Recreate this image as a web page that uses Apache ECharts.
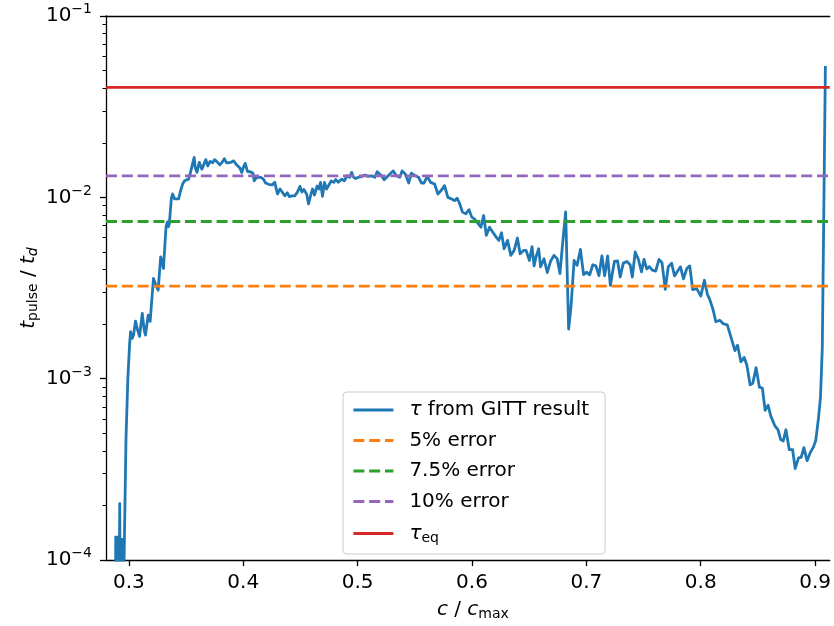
<!DOCTYPE html>
<html>
<head>
<meta charset="utf-8">
<script src="https://cdn.jsdelivr.net/npm/echarts@6/dist/echarts.min.js"></script>
<style>
html, body { margin: 0; padding: 0; background: #fff; }
#main { width: 834px; height: 626px; }
</style>
</head>
<body>
<div id="main"></div>
<script>
// c / c_max of every GITT pulse
var conc = [
    0.2882, 0.2885, 0.2889, 0.2893, 0.2897, 0.2901, 0.2905, 0.2909, 0.2913, 0.2920,
    0.2927, 0.2931, 0.2936, 0.2940, 0.2945, 0.2975, 0.2991, 0.3006, 0.3015, 0.3030,
    0.3041, 0.3058, 0.3076, 0.3093, 0.3117, 0.3134, 0.3145, 0.3169, 0.3186, 0.3200,
    0.3215, 0.3230, 0.3241, 0.3256, 0.3267, 0.3278, 0.3290, 0.3302, 0.3313, 0.3325,
    0.3337, 0.3345, 0.3354, 0.3371, 0.3382, 0.3400, 0.3417, 0.3435, 0.3452, 0.3470,
    0.3487, 0.3504, 0.3522, 0.3539, 0.3556, 0.3571, 0.3580, 0.3595, 0.3615, 0.3638,
    0.3661, 0.3673, 0.3690, 0.3710, 0.3732, 0.3750, 0.3771, 0.3795, 0.3815, 0.3835,
    0.3854, 0.3871, 0.3893, 0.3917, 0.3937, 0.3954, 0.3971, 0.3987, 0.4002, 0.4017,
    0.4037, 0.4050, 0.4067, 0.4085, 0.4096, 0.4113, 0.4132, 0.4154, 0.4176, 0.4195,
    0.4223, 0.4252, 0.4276, 0.4299, 0.4322, 0.4339, 0.4363, 0.4386, 0.4403, 0.4426,
    0.4450, 0.4473, 0.4496, 0.4513, 0.4530, 0.4554, 0.4571, 0.4588, 0.4606, 0.4623,
    0.4645, 0.4662, 0.4676, 0.4693, 0.4710, 0.4728, 0.4745, 0.4769, 0.4791, 0.4809,
    0.4832, 0.4861, 0.4884, 0.4907, 0.4930, 0.4948, 0.4965, 0.4984, 0.5006, 0.5035,
    0.5064, 0.5093, 0.5122, 0.5151, 0.5171, 0.5209, 0.5232, 0.5267, 0.5310, 0.5339,
    0.5369, 0.5389, 0.5417, 0.5447, 0.5470, 0.5504, 0.5534, 0.5557, 0.5580, 0.5609,
    0.5638, 0.5673, 0.5702, 0.5730, 0.5760, 0.5789, 0.5823, 0.5847, 0.5870, 0.5893,
    0.5917, 0.5945, 0.5974, 0.5998, 0.6021, 0.6044, 0.6078, 0.6102, 0.6125, 0.6153,
    0.6182, 0.6212, 0.6235, 0.6258, 0.6281, 0.6311, 0.6339, 0.6369, 0.6397, 0.6421,
    0.6450, 0.6473, 0.6502, 0.6525, 0.6543, 0.6560, 0.6583, 0.6600, 0.6630, 0.6658,
    0.6687, 0.6717, 0.6745, 0.6769, 0.6791, 0.6819, 0.6845, 0.6867, 0.6893, 0.6919,
    0.6948, 0.6976, 0.7002, 0.7029, 0.7056, 0.7083, 0.7110, 0.7136, 0.7160, 0.7186,
    0.7210, 0.7245, 0.7273, 0.7296, 0.7323, 0.7354, 0.7383, 0.7402, 0.7427, 0.7456,
    0.7482, 0.7504, 0.7528, 0.7551, 0.7577, 0.7606, 0.7635, 0.7661, 0.7690, 0.7716,
    0.7745, 0.7771, 0.7800, 0.7823, 0.7849, 0.7878, 0.7904, 0.7930, 0.7965, 0.8001,
    0.8032, 0.8058, 0.8078, 0.8108, 0.8132, 0.8167, 0.8197, 0.8232, 0.8258, 0.8299,
    0.8322, 0.8351, 0.8380, 0.8403, 0.8432, 0.8455, 0.8484, 0.8513, 0.8539, 0.8563,
    0.8589, 0.8612, 0.8647, 0.8676, 0.8699, 0.8722, 0.8745, 0.8774, 0.8803, 0.8826,
    0.8855, 0.8878, 0.8902, 0.8930, 0.8960, 0.8983, 0.9006, 0.9030, 0.9047, 0.9063,
    0.9090
];
// t_pulse / t_d (tau) from the GITT result
var tau = [
    3e-5, 1.34e-4, 3e-5, 1.34e-4, 3e-5, 1.34e-4, 3e-5, 1.34e-4, 3e-5, 2.05e-4,
    3e-5, 1.3e-4, 3e-5, 1.3e-4, 3e-5, 4.74e-4, 1.0e-3, 1.54e-3, 1.82e-3, 1.67e-3,
    1.74e-3, 2.08e-3, 1.86e-3, 1.71e-3, 2.29e-3, 1.86e-3, 1.74e-3, 2.24e-3, 2.07e-3, 2.10e-3,
    3.57e-3, 3.66e-3, 3.23e-3, 3.08e-3, 3.80e-3, 4.70e-3, 4.43e-3, 4.05e-3, 5.21e-3, 6.89e-3,
    7.33e-3, 6.89e-3, 7.15e-3, 9.80e-3, 1.044e-2, 9.80e-3, 9.60e-3, 9.80e-3, 1.088e-2, 1.184e-2,
    1.235e-2, 1.25e-2, 1.261e-2, 1.373e-2, 1.524e-2, 1.66e-2, 1.46e-2, 1.373e-2, 1.56e-2, 1.431e-2,
    1.55e-2, 1.615e-2, 1.49e-2, 1.58e-2, 1.55e-2, 1.615e-2, 1.57e-2, 1.51e-2, 1.56e-2, 1.635e-2,
    1.55e-2, 1.52e-2, 1.56e-2, 1.59e-2, 1.524e-2, 1.49e-2, 1.45e-2, 1.37e-2, 1.47e-2, 1.54e-2,
    1.39e-2, 1.40e-2, 1.38e-2, 1.36e-2, 1.235e-2, 1.28e-2, 1.29e-2, 1.29e-2, 1.261e-2, 1.20e-2,
    1.18e-2, 1.17e-2, 1.21e-2, 1.044e-2, 1.112e-2, 1.135e-2, 1.02e-2, 1.06e-2, 1.01e-2, 1.02e-2,
    1.02e-2, 1.066e-2, 1.15e-2, 1.07e-2, 1.105e-2, 1.044e-2, 9.20e-3, 1.02e-2, 1.112e-2, 1.03e-2,
    1.155e-2, 1.112e-2, 1.21e-2, 1.014e-2, 1.21e-2, 1.112e-2, 1.16e-2, 1.23e-2, 1.21e-2, 1.254e-2,
    1.21e-2, 1.261e-2, 1.235e-2, 1.315e-2, 1.29e-2, 1.373e-2, 1.29e-2, 1.27e-2, 1.29e-2, 1.305e-2,
    1.327e-2, 1.305e-2, 1.315e-2, 1.29e-2, 1.384e-2, 1.315e-2, 1.25e-2, 1.315e-2, 1.40e-2, 1.315e-2,
    1.29e-2, 1.40e-2, 1.344e-2, 1.20e-2, 1.36e-2, 1.315e-2, 1.29e-2, 1.20e-2, 1.20e-2, 1.305e-2,
    1.21e-2, 1.184e-2, 1.044e-2, 1.09e-2, 1.16e-2, 1.0e-2, 9.80e-3, 9.60e-3, 9.89e-3, 9.20e-3,
    8.29e-3, 8.11e-3, 8.56e-3, 7.78e-3, 7.61e-3, 7.30e-3, 6.85e-3, 7.94e-3, 6.17e-3, 6.85e-3,
    6.43e-3, 6.04e-3, 5.79e-3, 6.38e-3, 5.21e-3, 5.79e-3, 4.79e-3, 5.10e-3, 5.97e-3, 4.89e-3,
    5.10e-3, 5.10e-3, 4.49e-3, 5.35e-3, 4.19e-3, 4.70e-3, 5.21e-3, 4.14e-3, 4.59e-3, 3.85e-3,
    4.44e-3, 4.79e-3, 4.59e-3, 3.80e-3, 5.43e-3, 8.32e-3, 1.88e-3, 2.55e-3, 4.49e-3, 4.22e-3,
    5.16e-3, 3.75e-3, 3.87e-3, 3.74e-3, 4.25e-3, 4.19e-3, 3.70e-3, 4.76e-3, 3.69e-3, 4.76e-3,
    3.27e-3, 4.43e-3, 4.46e-3, 3.64e-3, 4.34e-3, 4.43e-3, 4.25e-3, 3.64e-3, 5.00e-3, 4.53e-3,
    3.88e-3, 4.55e-3, 4.03e-3, 4.15e-3, 3.97e-3, 3.92e-3, 4.55e-3, 4.38e-3, 3.11e-3, 4.14e-3,
    4.34e-3, 3.69e-3, 3.94e-3, 4.14e-3, 3.55e-3, 4.05e-3, 4.19e-3, 3.10e-3, 3.14e-3, 2.86e-3,
    3.49e-3, 2.92e-3, 2.75e-3, 2.40e-3, 2.06e-3, 2.10e-3, 2.01e-3, 1.98e-3, 1.75e-3, 1.43e-3,
    1.53e-3, 1.24e-3, 1.31e-3, 1.19e-3, 9.25e-4, 9.43e-4, 1.15e-3, 8.98e-4, 8.87e-4, 6.70e-4,
    7.14e-4, 6.24e-4, 5.52e-4, 5.23e-4, 4.62e-4, 4.54e-4, 5.23e-4, 4.07e-4, 4.07e-4, 3.20e-4,
    3.66e-4, 3.68e-4, 4.17e-4, 3.53e-4, 3.94e-4, 4.17e-4, 4.57e-4, 6.1e-4, 7.9e-4, 1.48e-3,
    5.3e-2
];
// horizontal reference levels
var errorNames = ['5% error', '7.5% error', '10% error'];
var errorLevels = [0.00324, 0.00736, 0.01315];
var errorColors = ['#ff7f0e', '#2ca02c', '#9467bd'];
var tauEq = 0.0404;

var xTicks = [0.3, 0.4, 0.5, 0.6, 0.7, 0.8, 0.9];
var yMinorTicks = [];
[1e-4, 1e-3, 1e-2].forEach(function (d) {
    for (var k = 2; k <= 9; k++) yMinorTicks.push(k * d);
});

var xMin = 0.28, xMax = 0.9128;
var F = 'DejaVu Sans';
var LW = 2.8;

var gittData = conc.map(function (c, i) { return [c, tau[i]]; });

var series = [{
    name: 'τ from GITT result',
    type: 'line',
    data: gittData,
    showSymbol: false,
    symbol: 'none',
    clip: true,
    lineStyle: { color: '#1f77b4', width: LW, join: 'round' },
    itemStyle: { color: '#1f77b4' }
}];
errorLevels.forEach(function (v, i) {
    series.push({
        name: errorNames[i],
        type: 'line',
        data: [[xMin, v], [xMax, v]],
        showSymbol: false,
        symbol: 'none',
        lineStyle: { color: errorColors[i], width: LW, type: [11, 4.8] },
        itemStyle: { color: errorColors[i] }
    });
});
series.push({
    name: 'τeq',
    type: 'line',
    data: [[xMin, tauEq], [xMax, tauEq]],
    showSymbol: false,
    symbol: 'none',
    lineStyle: { color: '#d62728', width: LW },
    itemStyle: { color: '#d62728' }
});

var richText = {
    n: { fontFamily: F, fontSize: 20, lineHeight: 22, color: '#000' },
    i: { fontFamily: F, fontSize: 20, lineHeight: 22, fontStyle: 'italic', color: '#000' },
    sub: { fontFamily: F, fontSize: 14, lineHeight: 11, padding: [9, 0, 0, 0], color: '#000' },
    subi: { fontFamily: F, fontSize: 14, lineHeight: 11, padding: [9, 0, 0, 0], fontStyle: 'italic', color: '#000' },
    sup: { fontFamily: F, fontSize: 14, lineHeight: 14, padding: [0, 0, 13, 0], color: '#000' },
    gap: { width: 11 }
};

var option = {
    animation: false,
    backgroundColor: '#fff',
    grid: { left: 106, top: 16, right: 0, bottom: 62.5 },
    legend: {
        orient: 'vertical',
        left: 343,
        top: 392,
        padding: [8, 16, 9, 9],
        itemWidth: 40,
        itemHeight: 14,
        itemGap: 10.5,
        selectedMode: false,
        backgroundColor: 'rgba(255,255,255,0.8)',
        borderColor: '#cccccc',
        borderWidth: 1,
        borderRadius: 4,
        itemStyle: { opacity: 0, borderWidth: 0 },
        lineStyle: { width: LW },
        data: ['τ from GITT result'].concat(errorNames).concat(['τeq']),
        formatter: function (name) {
            if (name === 'τ from GITT result') return '{gap| }{i|τ}{n| from GITT result}';
            if (name === 'τeq') return '{gap| }{i|τ}{sub|eq}';
            return '{gap| }{n|' + name + '}';
        },
        textStyle: { rich: richText }
    },
    xAxis: [{
        type: 'value',
        min: xMin,
        max: xMax,
        name: '{i|c}{n| / }{i|c}{sub|max}',
        nameLocation: 'middle',
        nameGap: 31,
        nameTextStyle: { rich: richText, padding: [0, 0, 0, 10] },
        axisLine: { lineStyle: { color: '#000', width: 1.3 } },
        axisTick: { customValues: xTicks, length: 6, lineStyle: { color: '#000', width: 1.3 } },
        axisLabel: {
            customValues: xTicks,
            margin: 13,
            fontFamily: F,
            fontSize: 20,
            color: '#000',
            formatter: function (v) { return v.toFixed(1); }
        },
        splitLine: { show: false }
    }, {
        type: 'value',
        position: 'top',
        min: xMin,
        max: xMax,
        axisLine: { lineStyle: { color: '#000', width: 1.3 } },
        axisTick: { show: false },
        axisLabel: { show: false },
        splitLine: { show: false }
    }],
    yAxis: [{
        type: 'log',
        logBase: 10,
        min: 1e-4,
        max: 1e-1,
        name: '{i|t}{sub|pulse}{n| / }{i|t}{subi|d}',
        nameLocation: 'middle',
        nameGap: 66,
        nameMoveOverlap: false,
        nameRotate: 90,
        nameTextStyle: { rich: richText },
        axisLine: { show: true, lineStyle: { color: '#000', width: 1.3 } },
        axisTick: { length: 6, lineStyle: { color: '#000', width: 1.3 } },
        axisLabel: {
            margin: 14,
            formatter: function (v) {
                var e = Math.round(Math.log10(v));
                return '{n|10}{sup|\u2212' + (-e) + '}';
            },
            rich: richText
        },
        splitLine: { show: false }
    }, {
        type: 'log',
        logBase: 10,
        min: 1e-4,
        max: 1e-1,
        position: 'left',
        axisLine: { show: false },
        axisTick: { customValues: yMinorTicks, length: 3.5, lineStyle: { color: '#000', width: 1 } },
        axisLabel: { show: false },
        splitLine: { show: false }
    }],
    series: series
};

var chart = echarts.init(document.getElementById('main'));
chart.setOption(option);
</script>
</body>
</html>
